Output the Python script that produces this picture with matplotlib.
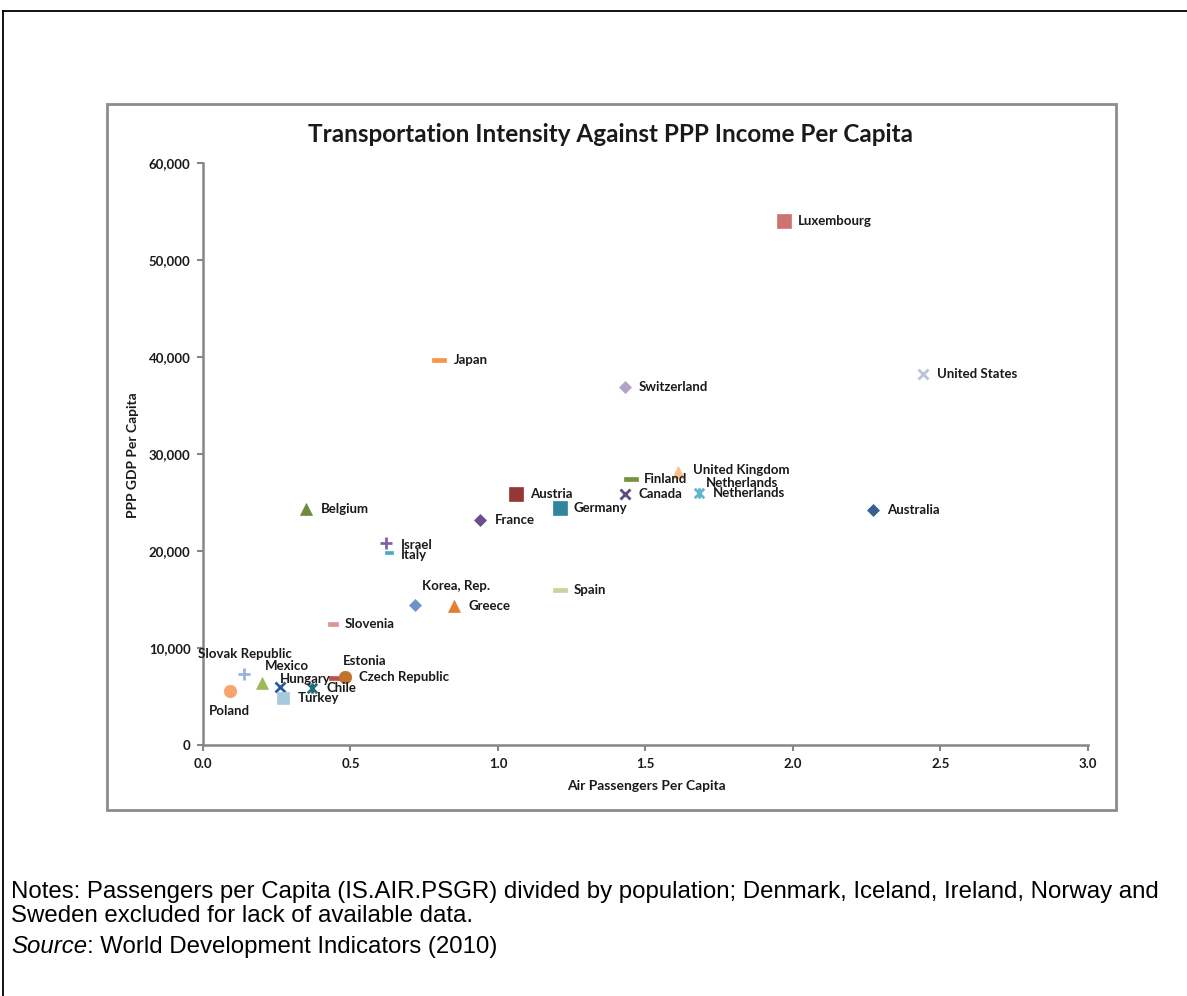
import matplotlib
matplotlib.use("Agg")
import matplotlib.pyplot as plt
from matplotlib.path import Path
from matplotlib.patches import Rectangle
from matplotlib.lines import Line2D

# ---------------- data ----------------
countries = ["Luxembourg", "United States", "Japan", "Switzerland", "United Kingdom",
             "Finland", "Netherlands", "Canada", "Austria", "Germany", "France",
             "Australia", "Belgium", "Israel", "Italy", "Korea, Rep.", "Greece",
             "Slovenia", "Spain", "Slovak Republic", "Mexico", "Hungary", "Turkey",
             "Chile", "Estonia", "Czech Republic", "Poland"]
air_pax = [1.97, 2.44, 0.80, 1.43, 1.61, 1.45, 1.68, 1.43, 1.06, 1.21, 0.94,
           2.27, 0.35, 0.62, 0.63, 0.72, 0.85, 0.44, 1.21, 0.14, 0.20, 0.26, 0.27,
           0.37, 0.45, 0.48, 0.09]
gdp_ppp = [54000, 38200, 39700, 36900, 28100, 27400, 26000, 25900, 25900, 24400, 23200,
           24200, 24300, 20800, 19900, 14400, 14300, 12500, 16000, 7300, 6400, 6000, 4800,
           5900, 6900, 7000, 5600]
extra_label_text = "Netherlands"          # duplicated label shown next to United Kingdom
extra_label_anchor = "Netherlands"

title = "Transportation Intensity Against PPP Income Per Capita"
x_label = "Air Passengers Per Capita"
y_label = "PPP GDP Per Capita"
x_ticks = [0.0, 0.5, 1.0, 1.5, 2.0, 2.5, 3.0]
y_ticks = [0, 10000, 20000, 30000, 40000, 50000, 60000]
notes_line1 = "Notes: Passengers per Capita (IS.AIR.PSGR) divided by population; Denmark, Iceland, Ireland, Norway and"
notes_line2 = "Sweden excluded for lack of available data."
source_word = "Source"
source_rest = ": World Development Indicators (2010)"

# ---------------- styles ----------------
DASH = Path([(-1, -0.36), (1, -0.36), (1, 0.36), (-1, 0.36), (-1, -0.36)],
            [Path.MOVETO, Path.LINETO, Path.LINETO, Path.LINETO, Path.CLOSEPOLY])
STAR = Path([(-1, -1), (1, 1), (-1, 1), (1, -1), (0, -1.1), (0, 1.1)],
            [Path.MOVETO, Path.LINETO, Path.MOVETO, Path.LINETO, Path.MOVETO, Path.LINETO])

# marker, color, markersize(pt), label offset px (dx, dy), ha
style = {
    "Luxembourg":      ("s", "#CD7371", 9.4, (14, 0), "left"),
    "United States":   ("x", "#B9C3DA", 7.5, (14, 0), "left"),
    "Japan":           (DASH, "#F79646", 9.4, (15, 0), "left"),
    "Switzerland":     ("D", "#B3A2C7", 5.8, (14, 0), "left"),
    "United Kingdom":  ("^", "#FAC090", 9.0, (15, 2), "left"),
    "Finland":         (DASH, "#77933C", 9.4, (13, 0), "left"),
    "Netherlands":     (STAR, "#5FB6CF", 7.5, (14, 0), "left"),
    "Canada":          ("x", "#604A7B", 7.5, (14, 0), "left"),
    "Austria":         ("s", "#953735", 9.4, (14, 0), "left"),
    "Germany":         ("s", "#31859C", 9.4, (14, 0), "left"),
    "France":          ("D", "#6A4F8C", 5.8, (15, 0), "left"),
    "Australia":       ("D", "#376092", 5.8, (14, 0), "left"),
    "Belgium":         ("^", "#6F8A38", 9.0, (15, 0), "left"),
    "Israel":          ("+", "#7F64A2", 8.0, (15, -2), "left"),
    "Italy":           (DASH, "#4BACC6", 6.0, (12, -3), "left"),
    "Korea, Rep.":     ("D", "#6E93C8", 5.8, (41, 19), "center"),
    "Greece":          ("^", "#E07F35", 9.0, (15, 0), "left"),
    "Slovenia":        (DASH, "#D99694", 7.5, (12, 0), "left"),
    "Spain":           (DASH, "#C3D69B", 9.4, (14, 0), "left"),
    "Slovak Republic": ("+", "#95B3D7", 8.0, (1, 20), "center"),
    "Mexico":          ("^", "#9BBB59", 9.0, (25, 17), "center"),
    "Hungary":         ("x", "#2E5C9E", 7.5, (0, 8), "left"),
    "Turkey":          ("s", "#A5CAE0", 9.0, (15, 0), "left"),
    "Chile":           (STAR, "#266B78", 7.5, (14, 0), "left"),
    "Estonia":         (DASH, "#C0504D", 9.4, (29, 17), "center"),
    "Czech Republic":  ("o", "#C0722E", 9.0, (14, 0), "left"),
    "Poland":          ("o", "#F8A46E", 9.0, (0, -20), "center"),
}
extra_offset = (7, 10)

LABEL_FONT = ["Lato", "DejaVu Sans"]
NOTE_FONT = ["Liberation Sans", "DejaVu Sans"]
TEXT_COLOR = "#1A1A1A"
AXIS_GRAY = "#868686"
LABEL_SIZE = 9.5
TICK_SIZE = 9.5
AXLABEL_SIZE = 10
NOTE_SIZE = 17.3

W, H = 1187, 996
fig = plt.figure(figsize=(W / 100, H / 100), dpi=100)

def fx(px):
    return px / W

def fy(py):
    return 1 - py / H

# outer black frame (top and left edges)
fig.add_artist(Line2D([fx(3), fx(W + 5)], [fy(11), fy(11)], color="black", lw=1.3,
                      transform=fig.transFigure))
fig.add_artist(Line2D([fx(3), fx(3)], [fy(11), fy(H + 5)], color="black", lw=1.3,
                      transform=fig.transFigure))

# chart border
fig.add_artist(Rectangle((fx(107), fy(810)), fx(1116) - fx(107), fy(104) - fy(810),
                         transform=fig.transFigure, fill=False, edgecolor="#8C8C8C", lw=2.0))

ax = fig.add_axes([fx(203), fy(745), fx(1088) - fx(203), fy(163) - fy(745)])

for name, xv, yv in zip(countries, air_pax, gdp_ppp):
    mk, col, ms, off, ha = style[name]
    is_line = mk in ("x", "+") or mk is STAR
    ax.plot([xv], [yv], linestyle="none", marker=mk, color=col, markersize=ms,
            markeredgewidth=2.0 if is_line else 0.5, markeredgecolor=col, clip_on=False)
    ax.annotate(name, (xv, yv), xytext=off, textcoords="offset pixels",
                ha=ha, va="center", fontsize=LABEL_SIZE, fontweight="bold",
                family=LABEL_FONT, color=TEXT_COLOR)

ei = countries.index(extra_label_anchor)
ax.annotate(extra_label_text, (air_pax[ei], gdp_ppp[ei]), xytext=extra_offset,
            textcoords="offset pixels", ha="left", va="center", fontsize=LABEL_SIZE,
            fontweight="bold", family=LABEL_FONT, color=TEXT_COLOR)

ax.set_xlim(0, 3.0)
ax.set_ylim(0, 60000)
ax.set_xticks(x_ticks)
ax.set_xticklabels([f"{t:.1f}" for t in x_ticks])
ax.set_yticks(y_ticks)
ax.set_yticklabels([f"{t:,}" for t in y_ticks])
for s in ("top", "right"):
    ax.spines[s].set_visible(False)
for s in ("left", "bottom"):
    ax.spines[s].set_color(AXIS_GRAY)
    ax.spines[s].set_linewidth(1.8)
ax.tick_params(axis="both", direction="out", length=4, width=1.5, color=AXIS_GRAY,
               labelsize=TICK_SIZE, pad=5, labelcolor=TEXT_COLOR)
for lab in ax.get_xticklabels() + ax.get_yticklabels():
    lab.set_fontweight("bold")
    lab.set_family(LABEL_FONT)
ax.patch.set_alpha(0)

fig.text(fx(611), fy(135), title, ha="center", va="center", fontsize=17.5,
         fontweight="bold", family=LABEL_FONT, color=TEXT_COLOR)
fig.text(fx(646), fy(786), x_label, ha="center", va="center", fontsize=AXLABEL_SIZE,
         fontweight="bold", family=LABEL_FONT, color=TEXT_COLOR)
fig.text(fx(133), fy(455), y_label, ha="center", va="center", rotation=90,
         fontsize=AXLABEL_SIZE, fontweight="bold", family=LABEL_FONT, color=TEXT_COLOR)

fig.text(fx(11), fy(892), notes_line1, ha="left", va="center", fontsize=NOTE_SIZE,
         family=NOTE_FONT, color="black")
fig.text(fx(11), fy(916), notes_line2, ha="left", va="center", fontsize=NOTE_SIZE,
         family=NOTE_FONT, color="black")
src = fig.text(fx(11), fy(946), source_word, ha="left", va="center", fontsize=NOTE_SIZE,
               family=NOTE_FONT, style="italic", color="black")
ax.annotate(source_rest, xy=(1, 0), xycoords=src, ha="left", va="bottom",
            fontsize=NOTE_SIZE, family=NOTE_FONT, color="black", annotation_clip=False)

fig.savefig("out.png", dpi=100)
